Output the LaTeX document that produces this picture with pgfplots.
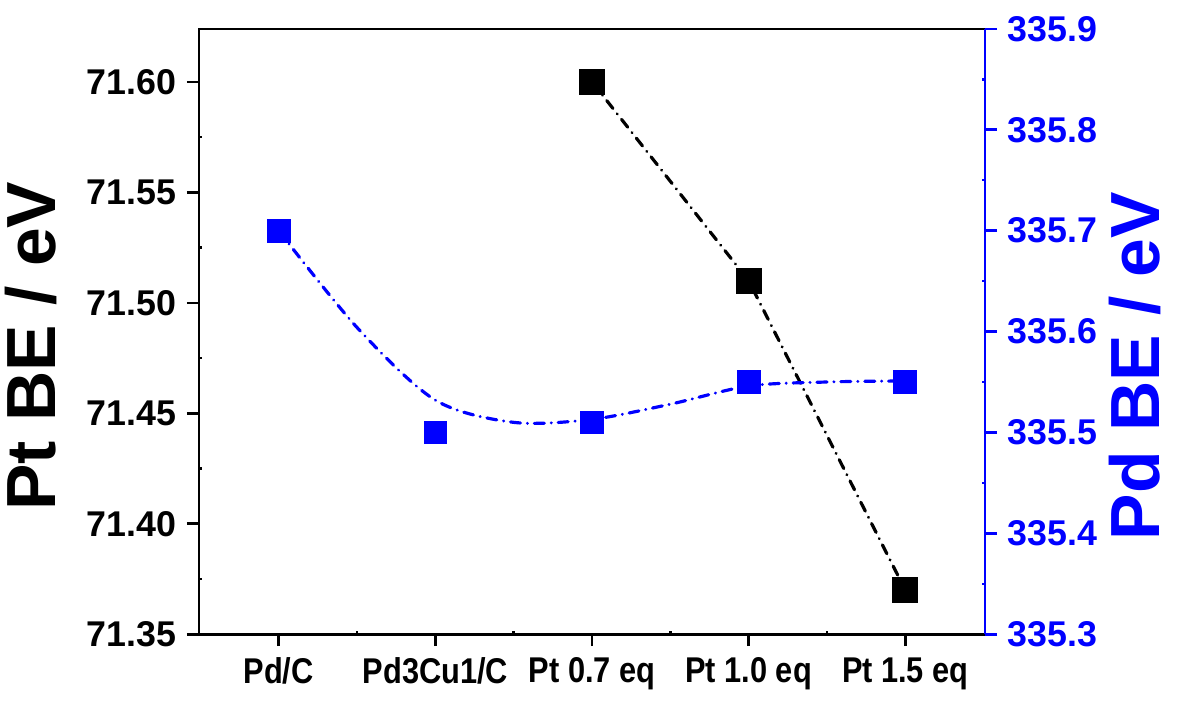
\documentclass[border=0pt]{standalone}
\usepackage{fontspec}
\setmainfont{Liberation Sans}
\newfontfamily\condfont[FakeStretch=0.86]{Liberation Sans}
\usepackage{pgfplots}
\pgfplotsset{compat=1.18}
\definecolor{pdblue}{RGB}{0,0,255}
\tikzset{dashdot/.style={line width=1.6pt, line cap=round, dash pattern=on 5pt off 3.5pt on 0.01pt off 3.5pt}}
\begin{document}
\begin{tikzpicture}
\begin{axis}[
  name=main,
  scale only axis, width=395.5pt, height=304.5pt,
  xmin=-0.51, xmax=4.51, ymin=71.35, ymax=71.624,
  axis line style={line width=1.3pt},
  tick style={line width=1.3pt, black},
  major tick length=6pt, minor tick length=-1.5pt,
  tick align=outside,
  xtick={0,1,2,3,4},
  xticklabels={Pd/C, Pd3Cu1/C, Pt 0.7 eq, Pt 1.0 eq, Pt 1.5 eq},
  minor x tick num=1,
  xtick pos=bottom,
  ytick={71.35,71.40,71.45,71.50,71.55,71.60},
  yticklabels={71.35,71.40,71.45,71.50,71.55,71.60},
  minor y tick num=1,
  ytick pos=left,
  xticklabel style={font=\condfont\bfseries\fontsize{18}{18}\selectfont, inner sep=5.5pt},
  yticklabel style={font=\bfseries\fontsize{18}{18}\selectfont, inner sep=5pt},
  every axis y label/.style={at={(axis description cs:-0.213,0.476)}, anchor=center, rotate=90, inner sep=0pt},
  ylabel={\bfseries\fontsize{35}{35}\selectfont Pt BE / eV},
  clip=false,
]
\addplot[black, dashdot, mark=square*, mark size=5.75pt, mark options={solid, fill=black}]
  coordinates {(2,71.60) (3,71.51) (4,71.37)};
\end{axis}
\begin{axis}[
  scale only axis, width=395.5pt, height=304.5pt,
  xmin=-0.51, xmax=4.51, ymin=335.3, ymax=335.9,
  axis x line=none, axis y line*=right,
  y axis line style={pdblue, line width=1.3pt},
  ytick style={pdblue, line width=1.3pt},
  major tick length=6pt, minor tick length=-1.5pt,
  tick align=outside,
  ytick={335.3,335.4,335.5,335.6,335.7,335.8,335.9},
  yticklabels={335.3,335.4,335.5,335.6,335.7,335.8,335.9},
  minor y tick num=1,
  yticklabel style={font=\bfseries\fontsize{18}{18}\selectfont, text=pdblue, inner sep=5pt},
  every axis y label/.style={at={(axis description cs:1.19,0.443)}, anchor=center, rotate=90, inner sep=0pt},
  ylabel={\bfseries\fontsize{35}{35}\selectfont\color{pdblue}Pd BE / eV},
]
\addplot[pdblue, dashdot, smooth, tension=0.5, forget plot]
  coordinates {(0,335.700) (0.5,335.604) (1,335.532) (1.5,335.510) (2,335.513) (2.5,335.528) (3,335.546) (3.5,335.550) (4,335.551)};
\addplot[only marks, mark=square*, mark size=5.75pt, mark options={draw=pdblue, fill=pdblue}]
  coordinates {(0,335.70) (1,335.50) (2,335.51) (3,335.55) (4,335.55)};
\end{axis}
\path ([xshift=-100pt,yshift=-28pt]main.south west) rectangle ([xshift=100pt,yshift=14.5pt]main.north east);
\end{tikzpicture}
\end{document}
